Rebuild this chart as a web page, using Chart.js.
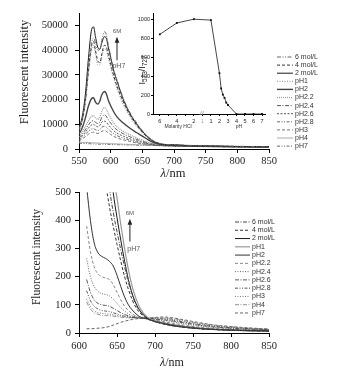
<!DOCTYPE html>
<html><head><meta charset="utf-8">
<script src="https://cdn.jsdelivr.net/npm/chart.js@4.4.0/dist/chart.umd.min.js"></script>
<style>
html,body{margin:0;padding:0;background:#fff;}
#wrap{position:relative;width:341px;height:377px;overflow:hidden;background:#fff;}
canvas{position:absolute;}
</style></head><body>
<div id="wrap">
<canvas id="c1" width="341" height="182" style="left:0;top:0;width:341px;height:182px"></canvas>
<canvas id="c2" width="341" height="195" style="left:0;top:182px;width:341px;height:195px"></canvas>
<canvas id="c3" width="142" height="130" style="left:128px;top:4px;width:142px;height:130px"></canvas>
</div>
<script>
// ---------- DATA ----------
const seriesNames = ['6 mol/L','4 mol/L','2 mol/L','pH1','pH2','pH2.2','pH2.4','pH2.6','pH2.8','pH3','pH4','pH7'];

// Top panel: full spectra 550-850 nm
const topWavelengths = [550,555,560,565,570,573,576,580,583,586,590,593,596,600,605,610,620,630,640,650,660,670,680,700,720,750,800,850];
const top6M   = [8000,12000,20000,33000,43000,45000,43000,40000,40500,44000,47500,46500,42500,37500,32000,28000,20500,15000,11000,7500,4800,3000,2100,1700,1500,1300,1100,950];
const top4M   = [7500,11500,19500,32000,42000,43500,40000,35500,35000,38500,42000,41500,38500,34500,29500,25500,19000,14000,10000,6800,4400,2800,2000,1650,1450,1250,1050,900];
const top2M   = [8500,13000,22000,37000,48500,49500,45500,41000,40500,43000,45500,45000,41500,37000,31500,27500,20000,14500,10500,7200,4500,2800,1900,1600,1400,1200,1000,900];
const topPH1  = [7000,11000,18500,30500,40500,42000,38500,34000,34000,37500,40500,40000,37000,33000,28500,24500,18000,13200,9500,6500,4200,2700,1900,1600,1400,1200,1000,880];
const topPH2  = [6000,8500,12500,17500,20500,20800,19000,18200,19500,22000,23300,22500,20000,17500,15000,13000,10500,8500,6800,5200,3600,2400,1800,1500,1300,1150,950,850];
const topPH22 = [5000,6800,9000,11500,13200,13500,12600,12000,13000,15200,16800,16200,14500,12500,10500,9000,7200,5800,4600,3600,2700,2000,1600,1400,1250,1100,950,850];
const topPH24 = [4500,6000,7800,9800,11300,11500,10800,10300,11000,12800,13800,13300,12000,10500,8900,7700,6200,5000,4000,3100,2400,1800,1500,1350,1200,1050,900,820];
const topPH26 = [4000,5300,6800,8500,9800,10000,9400,9000,9600,10900,11300,10900,9900,8700,7400,6400,5200,4200,3400,2700,2100,1700,1450,1300,1150,1000,880,800];
const topPH28 = [3600,4700,5900,7200,8100,8200,7800,7500,7900,8800,9200,8900,8100,7200,6200,5400,4400,3600,2900,2300,1900,1600,1400,1250,1100,980,860,780];
const topPH3  = [3200,4100,5000,6000,6700,6800,6500,6300,6600,7200,7400,7200,6600,5900,5100,4500,3700,3100,2500,2100,1700,1500,1350,1200,1080,960,840,760];
const topPH4  = [2800,2700,2650,2600,2550,2500,2450,2400,2350,2300,2300,2250,2200,2150,2100,2050,1950,1850,1750,1650,1550,1450,1400,1300,1200,1100,950,850];
const topPH7  = [2400,2300,2200,2150,2100,2050,2000,1980,1960,1940,1920,1900,1880,1850,1800,1760,1700,1640,1580,1520,1460,1400,1350,1250,1150,1050,900,800];
const topYTicks = [0,10000,20000,30000,40000,50000];
const topXTicks = [550,600,650,700,750,800,850];

// Bottom panel: 610-850 nm, zoomed to 0-500
const botWavelengths = [610,615,620,625,630,635,640,645,650,655,660,665,670,675,680,690,700,710,720,740,760,780,800,825,850];
const bot6M   = [2500,2000,1600,1200,900,680,520,430,360,295,235,180,135,100,78,52,40,33,27,20,15,12,10,8,7];
const bot4M   = [2200,1700,1300,950,700,540,450,380,315,255,200,155,118,90,72,50,40,33,27,20,15,12,10,8,7];
const bot2M   = [3000,2400,1900,1500,1100,800,620,500,410,330,255,190,140,105,80,52,41,34,28,20,15,12,10,8,7];
const botPH1  = [3200,2600,2100,1600,1200,880,680,560,480,385,300,225,165,122,90,56,43,35,29,21,16,13,10,8,7];
const botPH2  = [520,400,320,285,272,265,255,238,205,165,128,100,82,68,58,50,43,37,31,23,17,13,11,9,8];
const botPH22 = [380,290,235,210,200,195,190,172,145,118,95,80,68,60,55,50,46,41,36,27,20,16,13,10,9];
const botPH24 = [265,200,165,148,140,137,132,120,105,90,78,68,62,57,54,50,48,45,41,32,24,19,15,12,10];
const botPH26 = [190,145,118,105,100,98,95,88,80,72,66,61,58,55,53,50,49,47,44,35,27,21,17,13,11];
const botPH28 = [150,115,95,85,80,78,76,72,68,63,60,57,55,54,53,52,51,50,47,38,29,23,19,15,12];
const botPH3  = [120,95,80,72,70,68,67,65,62,60,58,56,55,54,53,53,53,52,50,41,32,25,20,16,13];
const botPH4  = [110,85,72,66,63,62,61,60,58,56,55,54,54,54,54,54,54,54,52,43,34,27,22,17,14];
const botPH7  = [15,15,16,17,18,20,23,28,33,38,42,45,48,50,52,53,55,57,55,46,36,28,23,18,14];
const botYTicks = [0,100,200,300,400,500];
const botXTicks = [600,650,700,750,800,850];

// Inset: I573/I727 ratio vs molarity HCl and pH
const insetMolarity = [6,4,2];
const insetMolarityRatio = [840,960,1000];
const insetPH = [1,2,2.2,2.4,2.6,2.8,3,4,5,6,7];
const insetPHRatio = [990,430,270,205,170,120,95,0,0,0,0];
const insetTickMolarity = ['6','','4','','2','1'];
const insetTickPH = ['1','2','3','4','5','6','7'];
const insetYTicks = [0,200,400,600,800,1000];

// ---------- STYLES ----------
const topStyles = [
  {c:'#666',d:[4,1.5,1,1.5,1,1.5],w:1},
  {c:'#333',d:[3,2],w:1},
  {c:'#1a1a1a',d:[],w:1},
  {c:'#888',d:[1,1.5],w:1},
  {c:'#444',d:[],w:1.4},
  {c:'#999',d:[1,1],w:1.2},
  {c:'#444',d:[4,1.5,1,1.5],w:0.9},
  {c:'#444',d:[2,1.5],w:0.9},
  {c:'#555',d:[3,1.5,1,1.5,1,1.5],w:0.9},
  {c:'#666',d:[3,2],w:0.9},
  {c:'#aaa',d:[],w:1},
  {c:'#555',d:[3,1.5,1,1.5,1,1.5],w:0.9}
];
const botStyles = [
  {c:'#444',d:[4,1.5,1,1.5],w:1},
  {c:'#333',d:[3,2],w:1},
  {c:'#1a1a1a',d:[],w:1},
  {c:'#999',d:[],w:1.2},
  {c:'#333',d:[],w:1},
  {c:'#888',d:[3,2],w:1},
  {c:'#666',d:[1,1.5],w:1},
  {c:'#444',d:[4,1.5,1,1.5],w:0.9},
  {c:'#444',d:[3,1.5,1,1.5,1,1.5],w:0.9},
  {c:'#777',d:[1,1.5],w:1},
  {c:'#888',d:[4,1.5,1,1.5],w:0.9},
  {c:'#555',d:[3,2],w:0.9}
];
const SERIF = "'Liberation Serif','Times New Roman',serif";
const SANS = "'Liberation Sans',Arial,sans-serif";

function buildSets(xs, vals, styles){
  return seriesNames.map((n,i)=>({
    label:n,
    data: xs.map((w,j)=>({x:w,y:vals[i][j]})),
    borderColor:styles[i].c, borderDash:styles[i].d, borderWidth:styles[i].w,
    pointRadius:0, cubicInterpolationMode:'monotone', fill:false
  }));
}

function legendPlugin(cfg){
  return {id:'customLegend', afterDatasetsDraw(chart){
    const ctx=chart.ctx; ctx.save();
    chart.data.datasets.forEach((ds,i)=>{
      const y=cfg.y0+i*cfg.dy;
      ctx.beginPath(); ctx.setLineDash(ds.borderDash||[]);
      ctx.strokeStyle=ds.borderColor; ctx.lineWidth=ds.borderWidth;
      ctx.moveTo(cfg.x1,y); ctx.lineTo(cfg.x2,y); ctx.stroke();
      ctx.setLineDash([]);
      ctx.fillStyle='#333'; ctx.font=cfg.font; ctx.textBaseline='middle'; ctx.textAlign='left';
      ctx.fillText(ds.label,cfg.tx,y);
    });
    ctx.restore();
  }};
}

function arrowPlugin(a){
  return {id:'arrowNote', afterDatasetsDraw(chart){
    const xs=chart.scales.x, ys=chart.scales.y, ctx=chart.ctx;
    const px=xs.getPixelForValue(a.x), y1=ys.getPixelForValue(a.from), y2=ys.getPixelForValue(a.to);
    ctx.save();
    ctx.strokeStyle='#222'; ctx.lineWidth=1; ctx.setLineDash([]);
    ctx.beginPath(); ctx.moveTo(px,y1); ctx.lineTo(px,y2+5); ctx.stroke();
    ctx.fillStyle='#222'; ctx.beginPath(); ctx.moveTo(px,y2); ctx.lineTo(px-2.3,y2+6); ctx.lineTo(px+2.3,y2+6); ctx.closePath(); ctx.fill();
    ctx.fillStyle='#555'; ctx.textAlign='center'; ctx.textBaseline='middle';
    ctx.font='6px '+SANS;
    ctx.fillText('6M', xs.getPixelForValue(a.topX), ys.getPixelForValue(a.topY));
    ctx.font='7px '+SANS;
    ctx.fillText('pH7', xs.getPixelForValue(a.botX), ys.getPixelForValue(a.botY));
    ctx.restore();
  }};
}

function titlePlugin(t){
  return {id:'axisTitles', afterDraw(chart){
    const ctx=chart.ctx; ctx.save();
    ctx.fillStyle='#222';
    ctx.translate(t.yx,t.yy); ctx.rotate(-Math.PI/2);
    ctx.font=t.ySize+'px '+SERIF; ctx.textAlign='center'; ctx.textBaseline='middle';
    ctx.fillText('Fluorescent intensity',0,0);
    ctx.setTransform(1,0,0,1,0,0);
    ctx.font='italic '+t.xSize+'px '+SERIF;
    const w1=ctx.measureText('λ').width;
    ctx.font=t.xSize+'px '+SERIF;
    const w2=ctx.measureText('/nm').width;
    const x0=t.xx-(w1+w2)/2;
    ctx.textAlign='left';
    ctx.font='italic '+t.xSize+'px '+SERIF; ctx.fillText('λ',x0,t.xy);
    ctx.font=t.xSize+'px '+SERIF; ctx.fillText('/nm',x0+w1,t.xy);
    ctx.restore();
  }};
}

function axisCommon(extra){
  return Object.assign({
    border:{display:true,color:'#000',width:1},
    grid:{display:true,drawOnChartArea:false,drawTicks:true,tickLength:4,color:'#000'},
  }, extra);
}

// ---------- TOP CHART ----------
new Chart(document.getElementById('c1'), {
  type:'line',
  data:{datasets: buildSets(topWavelengths,[top6M,top4M,top2M,topPH1,topPH2,topPH22,topPH24,topPH26,topPH28,topPH3,topPH4,topPH7],topStyles)},
  options:{
    responsive:false, animation:false, devicePixelRatio:1,
    layout:{padding:{top:5,right:72,left:0,bottom:0}},
    plugins:{legend:{display:false},tooltip:{enabled:false}},
    scales:{
      x: axisCommon({type:'linear',min:550,max:850,
        afterFit:s=>{s.height=33;},
        afterBuildTicks:s=>{s.ticks=topXTicks.map(v=>({value:v}));},
        ticks:{padding:2,color:'#222',maxRotation:0,autoSkip:false,font:{family:SERIF,size:10.5},callback:v=>String(v)}}),
      y: axisCommon({type:'linear',min:0,max:55000,
        afterFit:s=>{s.width=79;},
        afterBuildTicks:s=>{s.ticks=topYTicks.map(v=>({value:v}));},
        ticks:{padding:7,color:'#222',autoSkip:false,font:{family:SERIF,size:10.5},callback:v=>String(v)}})
    }
  },
  plugins:[
    legendPlugin({x1:277,x2:293,tx:295,y0:57,dy:8.1,font:'7px '+SANS}),
    arrowPlugin({x:610,from:36000,to:45500,topX:610,topY:47600,botX:613,botY:33800}),
    titlePlugin({yx:25,yy:72,ySize:12.5,xx:173,xy:174,xSize:12.5})
  ]
});

// ---------- BOTTOM CHART ----------
new Chart(document.getElementById('c2'), {
  type:'line',
  data:{datasets: buildSets(botWavelengths,[bot6M,bot4M,bot2M,botPH1,botPH2,botPH22,botPH24,botPH26,botPH28,botPH3,botPH4,botPH7],botStyles)},
  options:{
    responsive:false, animation:false, devicePixelRatio:1,
    layout:{padding:{top:8,right:72,left:0,bottom:0}},
    plugins:{legend:{display:false},tooltip:{enabled:false}},
    scales:{
      x: axisCommon({type:'linear',min:600,max:850,
        afterFit:s=>{s.height=44;},
        afterBuildTicks:s=>{s.ticks=botXTicks.map(v=>({value:v}));},
        ticks:{padding:3,color:'#222',maxRotation:0,autoSkip:false,font:{family:SERIF,size:10.5},callback:v=>String(v)}}),
      y: axisCommon({type:'linear',min:0,max:500,
        afterFit:s=>{s.width=79;},
        afterBuildTicks:s=>{s.ticks=botYTicks.map(v=>({value:v}));},
        ticks:{padding:4,color:'#222',autoSkip:false,font:{family:SERIF,size:10.5},callback:v=>String(v)}})
    }
  },
  plugins:[
    legendPlugin({x1:235,x2:250,tx:252,y0:40,dy:8.27,font:'7px '+SANS}),
    arrowPlugin({x:667,from:325,to:406,topX:667,topY:424,botX:672,botY:297}),
    titlePlugin({yx:37,yy:75,ySize:11.5,xx:172,xy:181,xSize:12})
  ]
});

// ---------- INSET ----------
// broken axis: molarity m plotted at position (1 - m), pH plotted at its own value
const insetData = insetMolarity.map((m,i)=>({x:1-m,y:insetMolarityRatio[i]}))
  .concat(insetPH.map((p,i)=>({x:p,y:insetPHRatio[i]})));
const insetTickLabels = {};
insetTickMolarity.forEach((t,i)=>{insetTickLabels[i-5]=t;});
insetTickPH.forEach((t,i)=>{insetTickLabels[i+1]=t;});

new Chart(document.getElementById('c3'), {
  type:'line',
  data:{datasets:[{data:insetData,borderColor:'#333',borderWidth:0.9,pointStyle:'rect',pointRadius:1.3,
    pointBackgroundColor:'#111',pointBorderColor:'#111',pointBorderWidth:0,tension:0,fill:false}]},
  options:{
    responsive:false, animation:false, devicePixelRatio:1,
    layout:{padding:{top:9,right:5,left:0,bottom:0}},
    plugins:{legend:{display:false},tooltip:{enabled:false}},
    scales:{
      x:{type:'linear',min:-5.8,max:7.35,
        border:{display:true,color:'#000',width:1},
        grid:{display:true,drawOnChartArea:false,tickLength:2,color:'#000'},
        afterFit:s=>{s.height=20;},
        afterBuildTicks:s=>{s.ticks=Object.keys(insetTickLabels).map(k=>({value:Number(k)}));},
        ticks:{padding:2,autoSkip:false,maxRotation:0,font:{family:SANS,size:5.5},
          color:c=>(c.tick && c.tick.value===0)?'#aaa':'#222',
          callback:v=>insetTickLabels[v]}},
      y:{type:'linear',min:0,max:1065,
        border:{display:true,color:'#000',width:1},
        grid:{display:true,drawOnChartArea:false,tickLength:2,color:'#000'},
        afterFit:s=>{s.width=25;},
        afterBuildTicks:s=>{s.ticks=insetYTicks.map(v=>({value:v}));},
        ticks:{padding:1,autoSkip:false,color:'#222',font:{family:SANS,size:5.5},callback:v=>String(v)}}
    }
  },
  plugins:[{id:'insetExtras',afterDraw(chart){
    const ctx=chart.ctx, xs=chart.scales.x, a=chart.chartArea;
    ctx.save();
    // axis break mark
    const bx=xs.getPixelForValue(0);
    ctx.strokeStyle='#aaa'; ctx.lineWidth=0.8;
    ctx.beginPath(); ctx.moveTo(bx-2.5,a.bottom+1); ctx.lineTo(bx-0.5,a.bottom-3); ctx.stroke();
    ctx.beginPath(); ctx.moveTo(bx-0.5,a.bottom+1); ctx.lineTo(bx+1.5,a.bottom-3); ctx.stroke();
    // x titles
    ctx.fillStyle='#333'; ctx.font='5px '+SANS; ctx.textAlign='center'; ctx.textBaseline='middle';
    ctx.fillText('Molarity HCl',50,123);
    ctx.fillText('pH',111,123);
    // y title I573/I727
    ctx.translate(15,66); ctx.rotate(-Math.PI/2);
    const big='9px '+SANS, small='6.5px '+SANS;
    const parts=[['I',big,0],['573',small,2],['/I',big,0],['727',small,2]];
    let tw=0; parts.forEach(p=>{ctx.font=p[1]; tw+=ctx.measureText(p[0]).width;});
    let x=-tw/2; ctx.textAlign='left'; ctx.fillStyle='#222';
    parts.forEach(p=>{ctx.font=p[1]; ctx.fillText(p[0],x,p[2]); x+=ctx.measureText(p[0]).width;});
    ctx.restore();
  }}]
});
</script>
</body></html>
